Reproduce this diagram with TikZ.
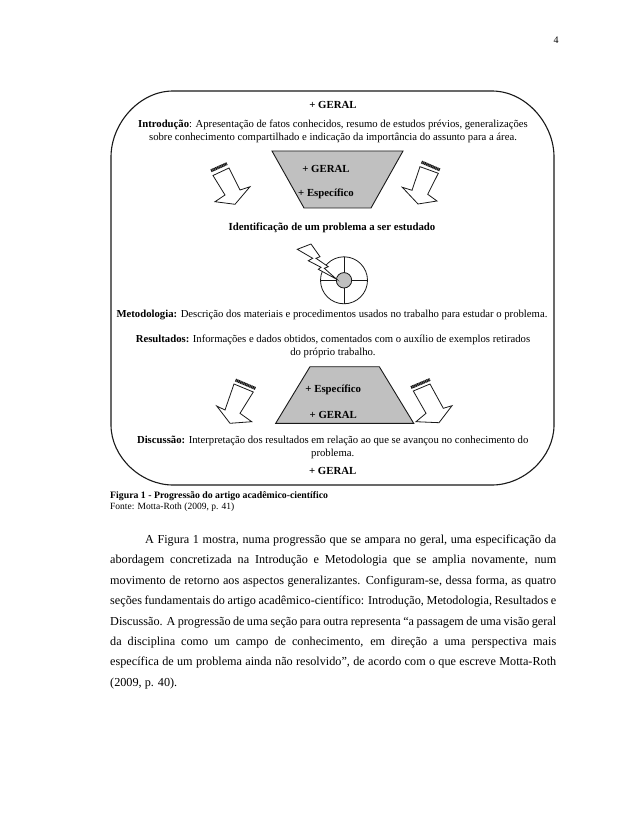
\documentclass[tikz,border=0pt]{standalone}
\usepackage{fontspec}
\setmainfont{Liberation Serif}
\usetikzlibrary{calc}
\definecolor{trapgray}{RGB}{192,192,192}
\definecolor{inkline}{RGB}{25,25,25}
\tikzset{
  frameline/.style={draw=inkline, line width=1.1pt},
  trapbox/.style={draw=inkline, fill=trapgray, line width=0.9pt},
  arrowbody/.style={draw=inkline, fill=white, line width=0.8pt, line join=miter},
  hatchline/.style={draw=inkline, line width=3pt, dash pattern=on 1.2pt off 0.5pt},
  bodytext/.style={font=\fontsize{10.7}{13}\selectfont, align=center, inner sep=0pt},
  traptext/.style={font=\fontsize{10.8}{13}\selectfont\bfseries, inner sep=0pt},
}
\begin{document}
\begin{tikzpicture}[x=1pt,y=-1pt]
  \useasboundingbox[fill=white] (0,0) rectangle (638,826);
  \node[font=\fontsize{10}{12}\selectfont, inner sep=0pt] (pagenum) at (556,40) {4};
  % moldura
  \draw[frameline] (173,91) -- (492,91) to[out=0,in=90,looseness=0.95] (554,157) -- (554,425)
    to[out=-90,in=0,looseness=0.95] (492,485) -- (173,485) to[out=180,in=-90,looseness=0.95] (111,425)
    -- (111,157) to[out=90,in=180,looseness=0.95] (173,91);
  % trapezios
  \draw[trapbox] (272,151) -- (403,151) -- (371,208) -- (304,208) -- cycle;
  \draw[trapbox] (310,366.7) -- (379.3,366.7) -- (413.7,423.3) -- (275.7,423.3) -- cycle;
  % setas
  \draw[arrowbody] (213,175.5) -- (229,168) -- (240,190) -- (250,186.7) -- (235,204.3) -- (215,201.7) -- (225,195) -- cycle;
  \draw[arrowbody] (420,166.7) -- (438.3,173.3) -- (427.7,194.3) -- (437,201) -- (418,204) -- (402.3,187.3) -- (412,190.3) -- cycle;
  \draw[arrowbody] (234,384) -- (253.3,392) -- (240,413.3) -- (251.7,421.7) -- (230,423.3) -- (216.7,406) -- (225,410) -- cycle;
  \draw[arrowbody] (413.3,391) -- (430,384) -- (443.3,408.3) -- (452,405.7) -- (439,422.7) -- (416,421.7) -- (426,413.3) -- cycle;
  % faixas
  \foreach \ax/\ay/\bx/\by in {211/170.8/227/163.6, 421.5/162/440/170, 235.5/380/255.5/388.5, 411/387.5/430/379.5}
    \draw[hatchline] (\ax,\ay) -- (\bx,\by);
  % alvo
  \draw[arrowbody] (344,280.3) circle (23.5);
  \draw[arrowbody] (320.5,280.3) -- (367.5,280.3) (344,256.8) -- (344,303.8);
  \draw[arrowbody, fill=trapgray] (344,280.3) circle (7.7);
  \draw[arrowbody] (297.3,249.3) -- (311,244) -- (320,256.7) -- (316,258.3) -- (328.3,266.7) -- (324.3,268.3) -- (336.7,279.3)
    -- (318.3,269.3) -- (321,267.3) -- (308.3,260.7) -- (312.7,258.3) -- cycle;
  % textos
  \node[traptext] (geraltop) at (333,104.7) {+ GERAL};
  \node[bodytext] (intro) at (333,131.5) {\textbf{Introdução}: Apresentação de fatos conhecidos, resumo de estudos prévios, generalizações\\sobre conhecimento compartilhado e indicação da importância do assunto para a área.};
  \node[traptext] (trapgeral) at (326,169) {+ GERAL};
  \node[traptext] (trapespec) at (326,194) {+ Específico};
  \node[traptext] (problema) at (332,228.3) {Identificação de um problema a ser estudado};
  \node[bodytext] (metodo) at (332,315) {\textbf{Metodologia:} Descrição dos materiais e procedimentos usados no trabalho para estudar o problema.};
  \node[bodytext] (result) at (333,346.5) {\textbf{Resultados:} Informações e dados obtidos, comentados com o auxílio de exemplos retirados\\do próprio trabalho.};
  \node[traptext] (lowespec) at (333.3,390.3) {+ Específico};
  \node[traptext] (lowgeral) at (333.3,415) {+ GERAL};
  \node[bodytext] (discuss) at (332.7,447.3) {\textbf{Discussão:} Interpretação dos resultados em relação ao que se avançou no conhecimento do\\problema.};
  \node[traptext] (geralbot) at (332.7,471.3) {+ GERAL};
  \node[font=\fontsize{9.5}{11}\selectfont, align=left, inner sep=0pt, anchor=north west] (legenda) at (110,491) {{\fontsize{9.8}{11}\selectfont\textbf{Figura 1 - Progressão do artigo acadêmico-científico}}\\Fonte: Motta-Roth (2009, p. 41)};
  \node[font=\fontsize{12.2}{20.4}\selectfont, inner sep=0pt, anchor=north west, text width=446pt, align=justify] (texto) at (110,534.7) {\hspace*{35pt}A Figura 1 mostra, numa progressão que se ampara no geral, uma especificação da\linebreak abordagem concretizada na Introdução e Metodologia que se amplia novamente, num\linebreak movimento de retorno aos aspectos generalizantes. Configuram-se, dessa forma, as quatro\linebreak seções fundamentais do artigo acadêmico-científico: Introdução, Metodologia, Resultados e\linebreak Discussão. A progressão de uma seção para outra representa “a passagem de uma visão geral\linebreak da disciplina como um campo de conhecimento, em direção a uma perspectiva mais\linebreak específica de um problema ainda não resolvido”, de acordo com o que escreve Motta-Roth\linebreak (2009, p. 40).};
\end{tikzpicture}
\end{document}
